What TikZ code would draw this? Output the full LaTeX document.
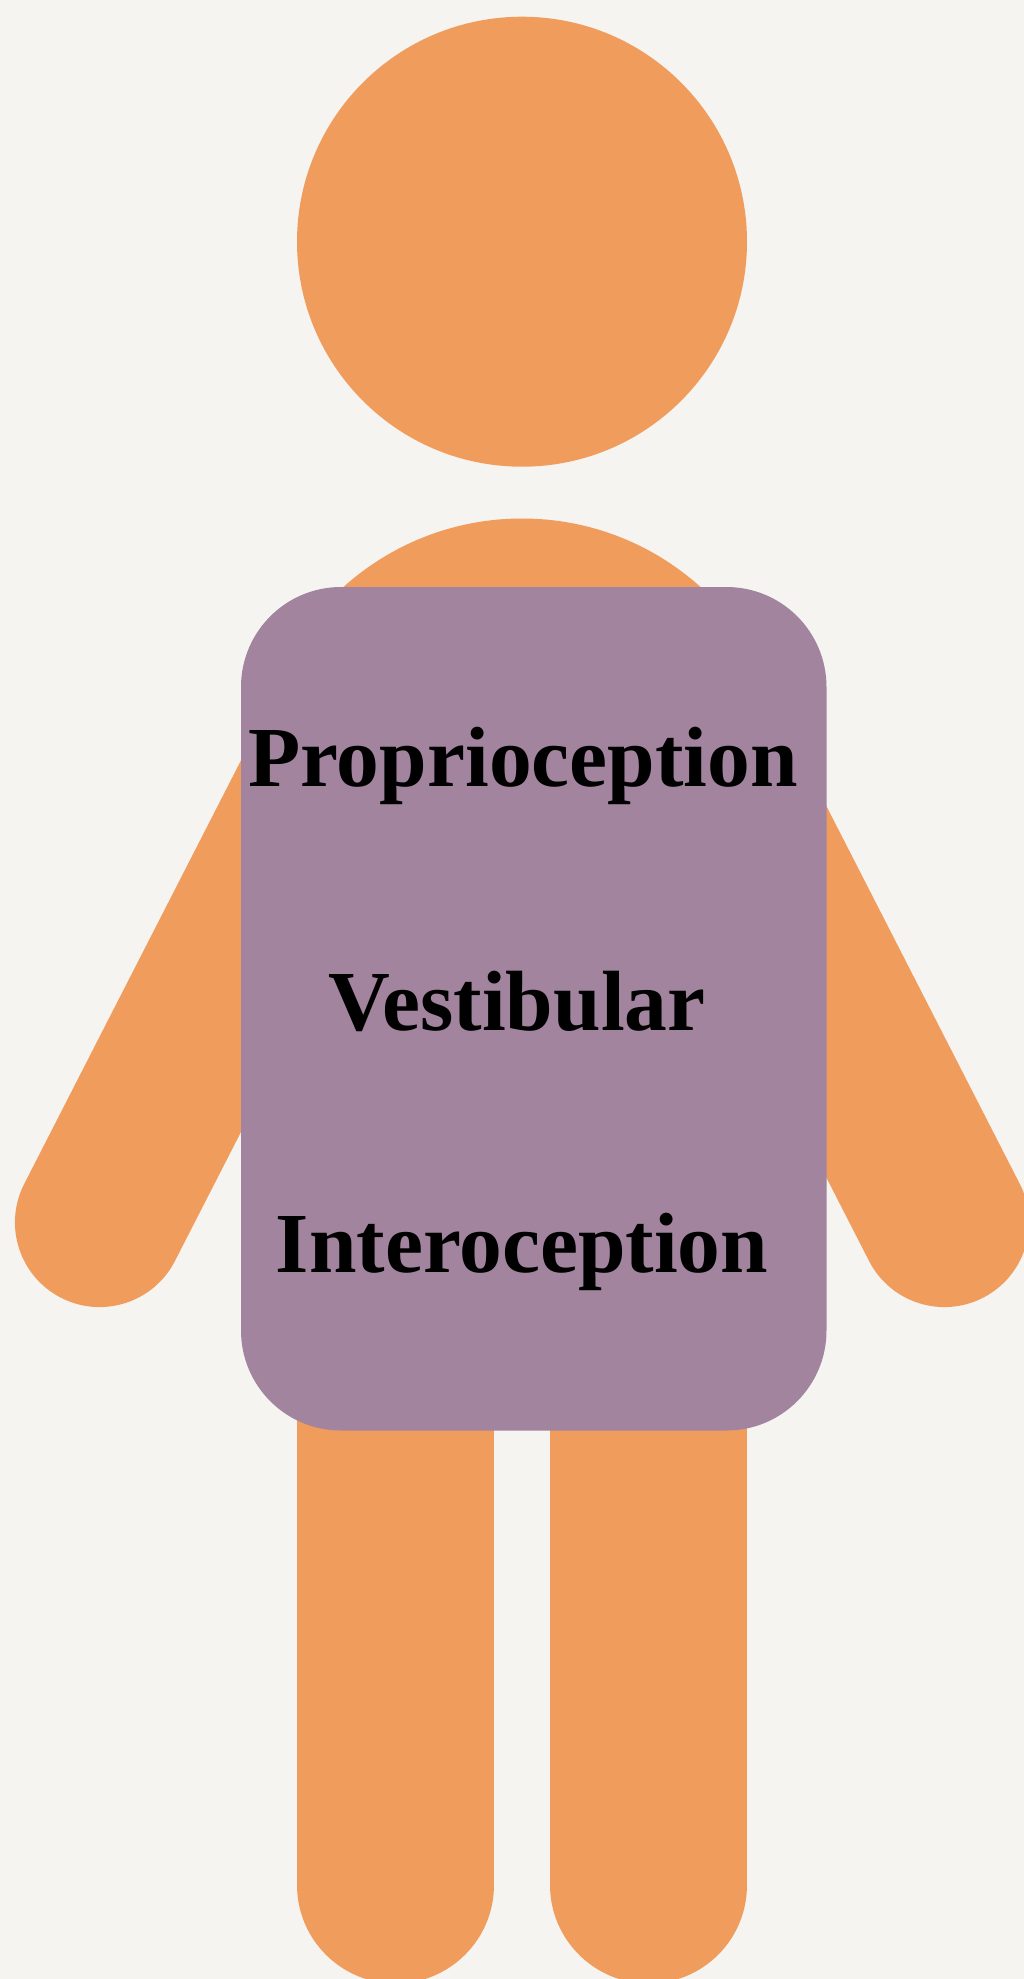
\documentclass[tikz,border=0pt]{standalone}
\usepackage{fontspec}
\newfontfamily\labfont{Liberation Serif Bold}
\definecolor{bgc}{HTML}{F5F4F0}
\definecolor{bodyc}{HTML}{F09C5C}
\definecolor{boxc}{HTML}{A2849E}
\tikzset{
  bodypart/.style={fill=bodyc,draw=none},
  limb/.style={draw=bodyc,line cap=round},
  arm/.style={limb,line width=169.3pt},
  leg/.style={limb,line width=197pt},
  lab/.style={anchor=base,inner sep=0pt,text=black,font=\labfont\fontsize{85.5}{86}\selectfont}
}
\begin{document}
\begin{tikzpicture}[x=1pt,y=-1pt]
\useasboundingbox (0,0) rectangle (1024,1979);
\clip (0,0) rectangle (1024,1979);
\fill[bgc] (0,0) rectangle (1024,1979);
\fill[bodypart] (522,241.7) circle[radius=225];
\fill[bodypart] (522,785.5) circle[radius=267];
\draw[arm] (367,700) -- (99.6,1222.4);
\draw[arm] (677,700) -- (944.4,1222.4);
\draw[leg] (395.5,1350) -- (395.5,1885);
\draw[leg] (648.8,1350) -- (648.8,1885);
\fill[boxc,rounded corners=100pt] (241,587) rectangle (826.5,1430.5);
\node[lab] (proprio) at (523,786) {Proprioception};
\node[lab] (vesti) at (517,1030) {Vestibular};
\node[lab] (intero) at (522,1272) {Interoception};
\end{tikzpicture}
\end{document}
